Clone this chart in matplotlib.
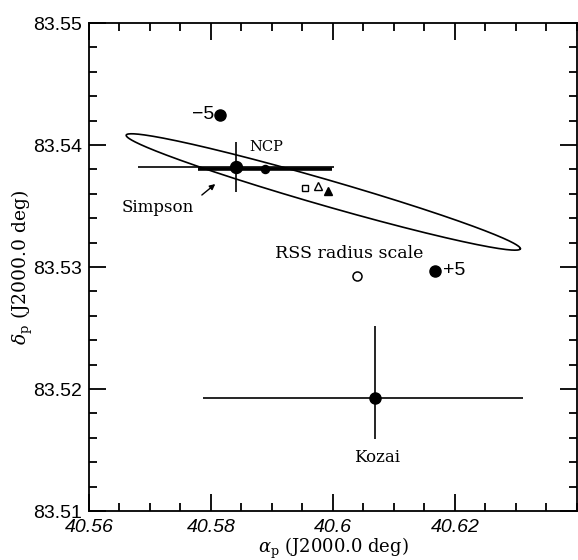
import numpy as np
import matplotlib
matplotlib.use("Agg")
import matplotlib.pyplot as plt

# Pole position estimates (right ascension alpha_p, declination delta_p), J2000.0 deg
minus5 = (40.5815, 83.5425)
plus5 = (40.6167, 83.5297)
simpson = (40.5841, 83.5382)
simpson_xerr = 0.0161
simpson_yerr = 0.00205
ncp = (40.5889, 83.5380)
ncp_xerr = 0.011
rss_scale = (40.6039, 83.5293)
square_pt = (40.5954, 83.5365)
open_tri = (40.5975, 83.5366)
filled_tri = (40.5992, 83.5362)
kozai = (40.6069, 83.5193)
kozai_xerr = (0.0282, 0.0242)
kozai_yerr = (0.0034, 0.0059)

# Error ellipse: centre, semi-major and semi-minor vectors (deg)
ell_center = (40.5984, 83.53615)
ell_major = (0.03230, -0.00466)
ell_minor = (0.00059, 0.00102)

xticks = [40.56, 40.58, 40.60, 40.62]
xticklabels = ["40.56", "40.58", "40.6", "40.62"]
yticks = [83.51, 83.52, 83.53, 83.54, 83.55]
yticklabels = ["83.51", "83.52", "83.53", "83.54", "83.55"]

plt.rcParams["mathtext.fontset"] = "dejavuserif"

fig = plt.figure(figsize=(5.78, 5.6), dpi=100)
ax = fig.add_axes([89 / 578, 49 / 560, 488 / 578, 488 / 560])
ax.set_xlim(40.56, 40.64)
ax.set_ylim(83.51, 83.55)

for s in ax.spines.values():
    s.set_linewidth(1.3)

ax.set_xticks(xticks)
ax.set_xticklabels(xticklabels, family="Liberation Sans", style="italic", fontsize=14)
ax.set_yticks(yticks)
ax.set_yticklabels(yticklabels, family="Liberation Sans", fontsize=14)
ax.set_xticks(np.arange(40.565, 40.64, 0.005), minor=True)
ax.set_yticks(np.arange(83.512, 83.55, 0.002), minor=True)
ax.tick_params(which="both", direction="in", top=True, right=True, width=1.3)
ax.tick_params(which="major", length=12)
ax.tick_params(which="minor", length=6)
ax.tick_params(axis="x", which="major", pad=6)
ax.tick_params(axis="y", which="major", pad=5)

ax.set_xlabel(r"$\alpha_{\rm p}$ (J2000.0 deg)", family="DejaVu Serif", fontsize=13)
ax.set_ylabel(r"$\delta_{\rm p}$ (J2000.0 deg)", family="DejaVu Serif", fontsize=13.5)
ax.xaxis.set_label_coords(0.5, -0.050)
ax.yaxis.set_label_coords(-0.110, 0.5)

# error ellipse
t = np.linspace(0, 2 * np.pi, 400)
ex = ell_center[0] + np.cos(t) * ell_major[0] + np.sin(t) * ell_minor[0]
ey = ell_center[1] + np.cos(t) * ell_major[1] + np.sin(t) * ell_minor[1]
ax.plot(ex, ey, color="black", lw=1.2)

# Simpson with error bars
ax.errorbar(simpson[0], simpson[1], xerr=simpson_xerr, yerr=simpson_yerr,
            fmt="o", color="black", ms=8.6, elinewidth=1.2, capsize=0)
ax.errorbar(ncp[0], ncp[1], xerr=ncp_xerr, fmt="o", color="black",
            ms=5.8, elinewidth=2.6, capsize=0)

# Kozai
ax.errorbar(kozai[0], kozai[1], xerr=[[kozai_xerr[0]], [kozai_xerr[1]]],
            yerr=[[kozai_yerr[0]], [kozai_yerr[1]]], fmt="o", color="black",
            ms=8, elinewidth=1.2, capsize=0)

ax.plot(*minus5, "o", color="black", ms=8)
ax.plot(*plus5, "o", color="black", ms=8)
ax.plot(*rss_scale, "o", mfc="white", mec="black", ms=6.5, mew=1.1)
ax.plot(*square_pt, "s", mfc="white", mec="black", ms=5, mew=1.0)
ax.plot(*open_tri, "^", mfc="white", mec="black", ms=6, mew=1.0)
ax.plot(*filled_tri, "^", color="black", ms=6)

# annotations
ax.annotate("", xy=(40.5807, 83.5368), xytext=(40.5785, 83.5359),
            arrowprops=dict(arrowstyle="-|>", color="black", lw=1.0,
                            mutation_scale=8, shrinkA=0, shrinkB=0))
ax.text(40.5805, 83.5425, "\u22125", family="Liberation Sans", fontsize=14,
        ha="right", va="center")
ax.text(40.6180, 83.5297, "+5", family="Liberation Sans", fontsize=14,
        ha="left", va="center")
ax.text(40.5890, 83.5398, "NCP", family="DejaVu Serif", fontsize=10.5,
        ha="center", va="center")
ax.text(40.5713, 83.5349, "Simpson", family="DejaVu Serif", fontsize=12,
        ha="center", va="center")
ax.text(40.6026, 83.5311, "RSS radius scale", family="DejaVu Serif", fontsize=12.5,
        ha="center", va="center")
ax.text(40.6072, 83.5144, "Kozai", family="DejaVu Serif", fontsize=12,
        ha="center", va="center")

fig.savefig("out.png", dpi=100)
